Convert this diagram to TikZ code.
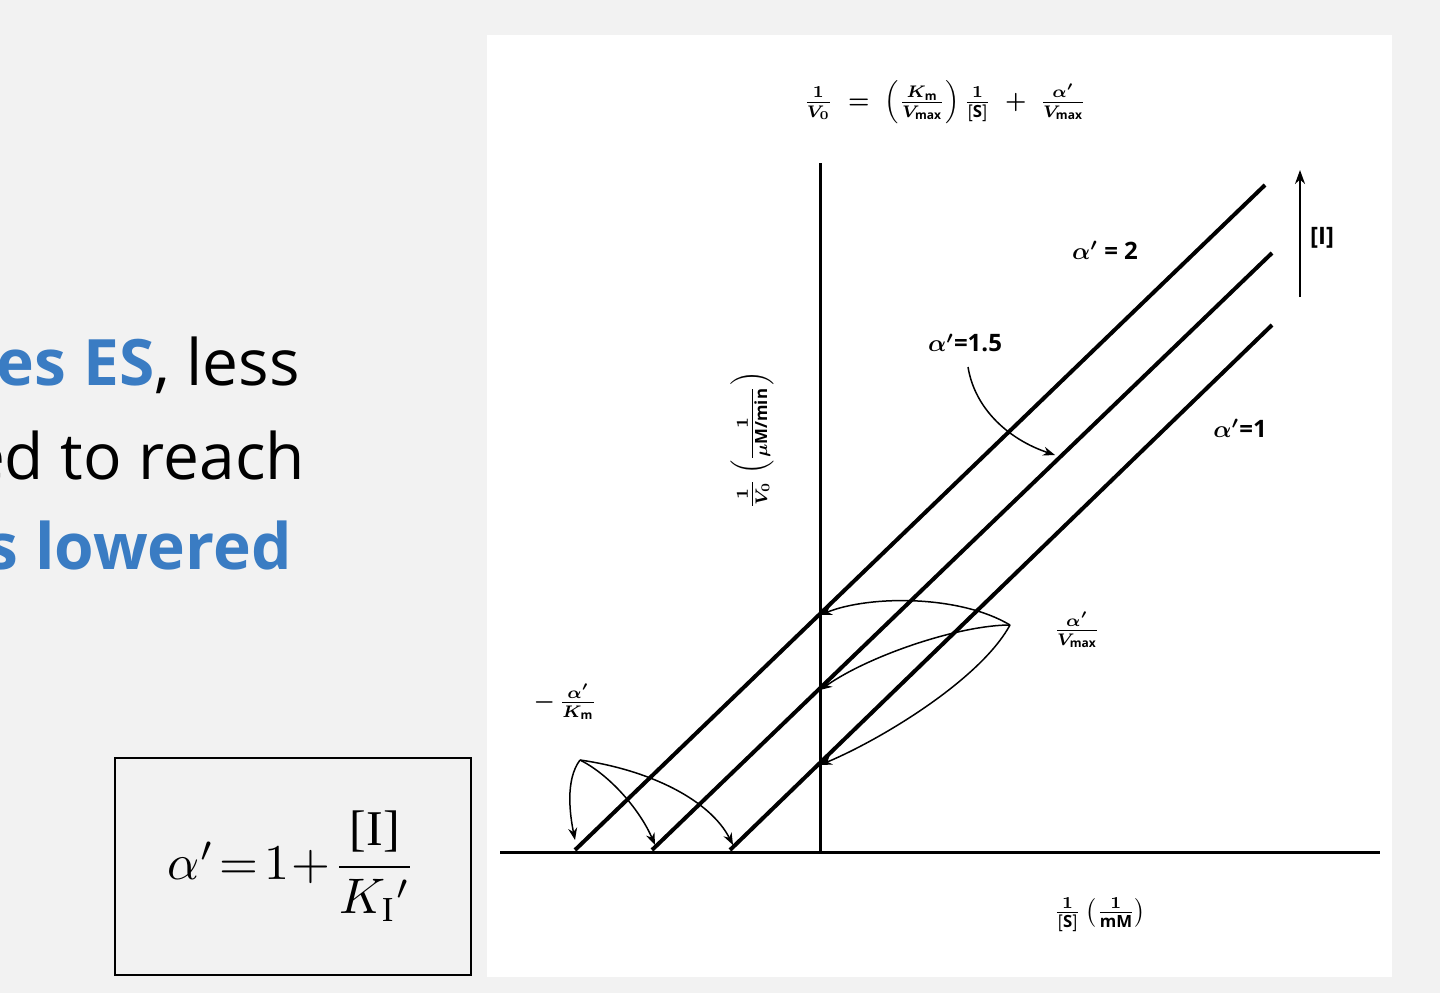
\documentclass[tikz,border=0pt]{standalone}
\usepackage{amsmath}
\usepackage{fontspec}
\setmainfont{Open Sans}
\newfontfamily\serifx{Liberation Serif}
\usetikzlibrary{arrows.meta}
\definecolor{bg}{HTML}{F2F2F2}
\definecolor{blu}{HTML}{3A7CC3}
\newcommand{\sclab}[1]{\scalebox{2.4}{\bfseries #1}}
\tikzset{ln/.style={line width=4pt},ax/.style={line width=3pt},
 cur/.style={line width=1.5pt,-{Stealth[length=12pt,width=9pt]}},
 lab/.style={inner sep=0pt},
 big/.style={font=\fontsize{64}{70}\selectfont,anchor=east,inner sep=0pt}}
\begin{document}
\begin{tikzpicture}[x=1pt,y=-1pt]
\useasboundingbox (0,0) rectangle (1440,993);
\fill[bg] (0,0) rectangle (1440,993);
\fill[white] (487,35) rectangle (1392,977);
\begin{scope}
\clip (0,0) rectangle (487,993);
\node[big] (t1) at (300,365) {\textcolor{blu}{\textbf{tes ES}}, less};
\node[big] (t2) at (305,455) {ed to reach};
\node[big] (t3) at (292,545) {\textcolor{blu}{\textbf{is lowered}}};
\end{scope}
\draw[line width=1.2pt] (115,758) rectangle (471,975);
\node[inner sep=0pt] (f) at (292,866) {\scalebox{5}{$\alpha'\!=\!1\!+\!\dfrac{\text{\serifx[I]}}{K_{\text{\serifx I}}{}'}$}};
% axes
\coordinate (xa) at (500,852); \coordinate (xb) at (1380,852);
\coordinate (ya) at (820,163); \coordinate (yb) at (820,852);
\draw[ax] (xa) -- (xb); \draw[ax] (ya) -- (yb);
% lines
\coordinate (a2) at (575,850); \coordinate (b2) at (1265,185);
\coordinate (a15) at (652,850); \coordinate (b15) at (1272,253);
\coordinate (a1) at (730,850); \coordinate (b1) at (1272,325);
\draw[ln] (a2) -- (b2); \draw[ln] (a15) -- (b15); \draw[ln] (a1) -- (b1);
% [I] arrow
\coordinate (ia) at (1300,297); \coordinate (ib) at (1300,170);
\draw[line width=2pt,-{Stealth[length=14pt,width=10pt]}] (ia) -- (ib);
\node[lab,anchor=west] (il) at (1310,238) {\sclab{[I]}};
\node[lab] (l2) at (1105,250) {\sclab{$\boldsymbol{\alpha'}$ = 2}};
\node[lab] (l15) at (965,343) {\sclab{$\boldsymbol{\alpha'}$=1.5}};
\node[lab] (l1) at (1240,428) {\sclab{$\boldsymbol{\alpha'}$=1}};
\draw[cur] (968,367) .. controls (975,410) and (1010,440) .. (1055,455);
% formula top
\node[lab] (eq) at (945,102) {\sclab{$\boldsymbol{\frac{1}{V_0}\;=\;\left(\frac{K_{\text{m}}}{V_{\text{max}}}\right)\frac{1}{[\text{S}]}\;+\;\frac{\alpha'}{V_{\text{max}}}}$}};
% y label
\node[lab,rotate=90] (yl) at (752,440) {\sclab{$\boldsymbol{\frac{1}{V_0}\left(\frac{1}{\mu\text{M/min}}\right)}$}};
\node[lab] (xl) at (1100,915) {\sclab{$\boldsymbol{\frac{1}{[\text{S}]}\left(\frac{1}{\text{mM}}\right)}$}};
% alpha/Vmax
\node[lab] (av) at (1077,630) {\sclab{$\boldsymbol{\frac{\alpha'}{V_{\text{max}}}}$}};
\coordinate (v0) at (1010,625);
\draw[cur] (v0) .. controls (960,595) and (870,595) .. (820,615);
\draw[cur] (v0) .. controls (960,625) and (870,655) .. (820,690);
\draw[cur] (v0) .. controls (980,680) and (880,740) .. (820,765);
% -alpha/Km
\node[lab] (ak) at (565,702) {\sclab{$\boldsymbol{-\,\frac{\alpha'}{K_{\text{m}}}}$}};
\coordinate (k0) at (580,760);
\draw[cur] (k0) .. controls (565,780) and (570,815) .. (575,840);
\draw[cur] (k0) .. controls (610,775) and (640,810) .. (655,845);
\draw[cur] (k0) .. controls (650,770) and (710,800) .. (733,845);
\end{tikzpicture}
\end{document}
